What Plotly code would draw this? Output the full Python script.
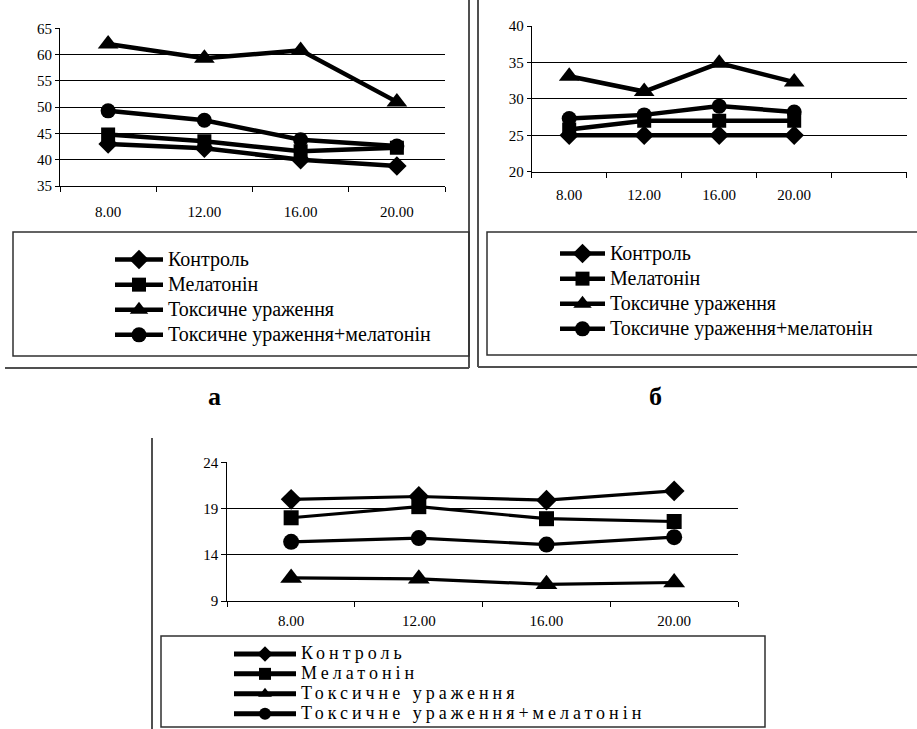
import plotly.graph_objects as go

W, H = 917, 729

categories = ["8.00", "12.00", "16.00", "20.00"]
series_names = ["Контроль", "Мелатонін", "Токсичне ураження", "Токсичне ураження+мелатонін"]

# panel а
a_control = [43.0, 42.2, 40.0, 38.8]
a_melatonin = [44.8, 43.5, 41.6, 42.3]
a_toxic = [62.0, 59.3, 60.8, 51.0]
a_toxic_mel = [49.3, 47.5, 43.8, 42.6]

# panel б
b_control = [25.0, 25.0, 25.0, 25.0]
b_melatonin = [25.8, 27.0, 27.0, 27.0]
b_toxic = [33.1, 31.0, 34.9, 32.3]
b_toxic_mel = [27.3, 27.8, 29.0, 28.2]

# panel в (bottom)
c_control = [20.0, 20.3, 19.9, 20.9]
c_melatonin = [18.0, 19.2, 17.9, 17.6]
c_toxic = [11.5, 11.4, 10.8, 11.0]
c_toxic_mel = [15.4, 15.8, 15.1, 15.9]

panel_labels = ["а", "б"]

symbols = ["diamond", "square", "triangle-up", "circle"]
FONT = "Liberation Serif"


def px_x(x):
    return x / W


def px_y(y):
    return 1 - y / H


fig = go.Figure()

idx = list(range(len(categories)))

panels = [
    dict(data=[a_control, a_melatonin, a_toxic, a_toxic_mel], xa="x", ya="y", legend="legend",
         lw=4.5, msize=[15, 14, 18, 15], span="font-size:20px"),
    dict(data=[b_control, b_melatonin, b_toxic, b_toxic_mel], xa="x2", ya="y2", legend="legend2",
         lw=4.5, msize=[15, 14, 18, 15], span="font-size:20px"),
    dict(data=[c_control, c_melatonin, c_toxic, c_toxic_mel], xa="x3", ya="y3", legend="legend3",
         lw=3.2, msize=[16, 15, 19, 16], span="font-size:18px;letter-spacing:4px"),
]

for p in panels:
    for k, (name, vals) in enumerate(zip(series_names, p["data"])):
        fig.add_trace(go.Scatter(
            x=idx, y=vals, mode="lines+markers",
            name=f'<span style="{p["span"]}">{name}</span>',
            line=dict(color="black", width=p["lw"]),
            marker=dict(symbol=symbols[k], size=p["msize"][k], color="black"),
            xaxis=p["xa"], yaxis=p["ya"], legend=p["legend"],
            hoverinfo="skip",
        ))


def xaxis(x0, x1, nslots, anchor, fsize, push):
    return dict(
        domain=[px_x(x0), px_x(x1)], anchor=anchor,
        range=[-0.5, nslots - 0.5],
        tickmode="array", tickvals=idx, ticktext=categories,
        ticks="outside", ticklen=push, tickcolor="rgba(0,0,0,0)",
        showgrid=False, zeroline=False,
        showline=True, linecolor="black", linewidth=1,
        tickfont=dict(family=FONT, size=fsize, color="black"),
        minor=dict(tickmode="array", tickvals=[i - 0.5 for i in range(nslots + 1)],
                   ticks="outside", ticklen=5, tickcolor="black", tickwidth=1, showgrid=False),
        fixedrange=True,
    )


def yaxis(ytop, ybot, lo, hi, step, anchor, fsize, tlen):
    return dict(
        domain=[px_y(ybot), px_y(ytop)], anchor=anchor,
        range=[lo, hi], tick0=lo, dtick=step,
        ticks="outside", ticklen=tlen, tickcolor="black",
        showgrid=True, gridcolor="black", gridwidth=1,
        showline=True, linecolor="black", linewidth=1, zeroline=False,
        tickfont=dict(family=FONT, size=fsize, color="black"),
        fixedrange=True,
    )


shapes = []
line_col = "#505050"
# frames
shapes.append(dict(type="line", xref="paper", yref="paper", x0=px_x(469), x1=px_x(469), y0=px_y(0), y1=px_y(368), line=dict(color=line_col, width=2)))
shapes.append(dict(type="line", xref="paper", yref="paper", x0=px_x(5), x1=px_x(469), y0=px_y(368), y1=px_y(368), line=dict(color=line_col, width=2)))
shapes.append(dict(type="line", xref="paper", yref="paper", x0=px_x(478), x1=px_x(478), y0=px_y(0), y1=px_y(367), line=dict(color=line_col, width=2)))
shapes.append(dict(type="line", xref="paper", yref="paper", x0=px_x(478), x1=px_x(917), y0=px_y(367), y1=px_y(367), line=dict(color=line_col, width=2)))
shapes.append(dict(type="line", xref="paper", yref="paper", x0=px_x(152), x1=px_x(152), y0=px_y(438), y1=px_y(729), line=dict(color=line_col, width=2)))
# legend boxes
shapes.append(dict(type="rect", xref="paper", yref="paper", x0=px_x(13), x1=px_x(469), y0=px_y(356), y1=px_y(232), line=dict(color="#303030", width=1.5)))
shapes.append(dict(type="rect", xref="paper", yref="paper", x0=px_x(487), x1=px_x(925), y0=px_y(355), y1=px_y(232), line=dict(color="#303030", width=1.5)))
shapes.append(dict(type="rect", xref="paper", yref="paper", x0=px_x(161), x1=px_x(765), y0=px_y(727), y1=px_y(636), line=dict(color="#303030", width=1.5)))

annotations = [
    dict(text=f"<b>{panel_labels[0]}</b>", x=px_x(206), y=px_y(396), xref="paper", yref="paper",
         showarrow=False, font=dict(family=FONT, size=26, color="black")),
    dict(text=f"<b>{panel_labels[1]}</b>", x=px_x(664), y=px_y(396), xref="paper", yref="paper",
         showarrow=False, font=dict(family=FONT, size=26, color="black")),
]


def legend(x, y, fsize, iw, sizing="trace"):
    return dict(x=px_x(x), y=px_y(y), xanchor="left", yanchor="top",
                bgcolor="rgba(0,0,0,0)", borderwidth=0,
                font=dict(family=FONT, size=fsize, color="black"),
                itemwidth=iw, itemsizing=sizing, tracegroupgap=0,
                itemclick=False, itemdoubleclick=False)


fig.update_layout(
    width=W, height=H,
    margin=dict(l=0, r=0, t=0, b=0, autoexpand=False),
    paper_bgcolor="white", plot_bgcolor="white",
    font=dict(family=FONT, color="black"),
    showlegend=True,
    xaxis=xaxis(60, 445, len(categories), "y", 15, 12),
    yaxis=yaxis(28.3, 186, 35, 65, 5, "x", 15, 4),
    xaxis2=xaxis(531.7, 906.7, len(categories) + 1, "y2", 15, 9),
    yaxis2=yaxis(26, 171.7, 20, 40, 5, "x2", 15, 4),
    xaxis3=xaxis(227.3, 738, len(categories), "y3", 15, 6),
    yaxis3=yaxis(462.3, 601, 9, 24, 5, "x3", 15, 5),
    legend=legend(110, 242, 17, 48),
    legend2=legend(555, 236, 17, 45),
    legend3=legend(229, 639, 13, 62, "constant"),
    shapes=shapes,
    annotations=annotations,
)

fig.write_html("out.html", config=dict(displayModeBar=False),
               post_script="document.body.style.margin='0';document.body.style.overflow='hidden';")
